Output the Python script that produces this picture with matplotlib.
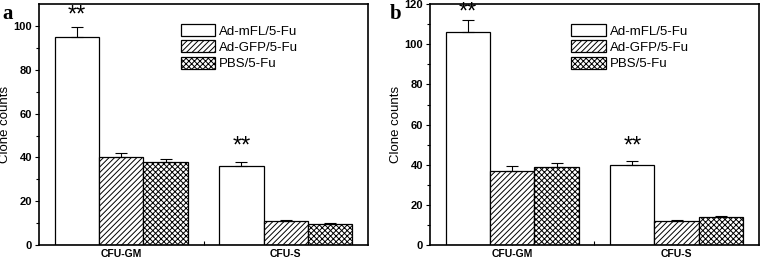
import numpy as np
import matplotlib.pyplot as plt

plt.rcParams['font.family'] = ['Liberation Sans', 'DejaVu Sans']
plt.rcParams['hatch.linewidth'] = 0.7

# Dados
categorias = ['CFU-GM', 'CFU-S']
grupos = ['Ad-mFL/5-Fu', 'Ad-GFP/5-Fu', 'PBS/5-Fu']

valores_a = [[95, 36], [40, 11], [38, 9.5]]
erros_a = [[4.5, 2], [2, 0.5], [1.5, 0.4]]
valores_b = [[106, 40], [37, 12], [39, 14]]
erros_b = [[6, 2], [2.5, 0.5], [2, 0.4]]

estrelas_a = [105, 45]
estrelas_b = [116, 49]

hachuras = ['', '//////', 'xxxxxx']


def painel(ax, valores, erros, estrelas, ymax, letra, xletra):
    x = np.arange(len(categorias))
    largura = 0.27
    for i, (v, e, h) in enumerate(zip(valores, erros, hachuras)):
        pos = x + (i - 1) * largura
        ax.bar(pos, v, largura, color='white', edgecolor='black', hatch=h,
               linewidth=0.9, label=grupos[i], zorder=2)
        ax.errorbar(pos, v, yerr=[np.zeros(len(v)), e], fmt='none',
                    ecolor='black', elinewidth=0.8, capsize=4.5, capthick=0.8, zorder=3)
    for xi, s in zip(x - largura, estrelas):
        ax.text(xi, s, '**', ha='center', va='center', fontsize=17)

    ax.set_xlim(-0.5, 1.5)
    ax.set_ylim(0, ymax)
    ax.set_xticks([0, 0.5, 1])
    ax.set_xticklabels(['CFU-GM', '', 'CFU-S'], fontsize=7.5, fontweight='bold')
    ax.tick_params(axis='x', direction='in', length=3, width=0.8, pad=3)
    ax.set_yticks(np.arange(0, ymax + 1, 20))
    ax.set_yticks(np.arange(10, ymax, 20), minor=True)
    ax.tick_params(axis='y', which='major', direction='out', length=3, width=0.8,
                   labelsize=8, pad=2)
    ax.tick_params(axis='y', which='minor', direction='out', length=2, width=0.8)
    for lab in ax.get_yticklabels():
        lab.set_fontweight('bold')
    ax.set_ylabel('Clone counts', fontsize=9.5)
    ax.yaxis.set_label_coords(-0.085, 0.5)
    for sp in ax.spines.values():
        sp.set_linewidth(1.2)
    ax.legend(loc='upper left', bbox_to_anchor=(0.41, 0.945), frameon=False,
              fontsize=9.5, handlelength=2.6, handleheight=1.05, handletextpad=0.3,
              labelspacing=0.2, borderpad=0)
    ax.text(xletra, 1.0, letra, transform=ax.transAxes, fontsize=15, fontweight='bold',
            family='Liberation Serif', va='top', ha='left')


fig = plt.figure(figsize=(7.61, 2.59), dpi=100)
ax1 = fig.add_axes([0.0513, 0.054, 0.4323, 0.930])
ax2 = fig.add_axes([0.565, 0.054, 0.4323, 0.930])

painel(ax1, valores_a, erros_a, estrelas_a, 110, 'a', -0.11)
painel(ax2, valores_b, erros_b, estrelas_b, 120, 'b', -0.122)

fig.savefig('out.png', dpi=100)
